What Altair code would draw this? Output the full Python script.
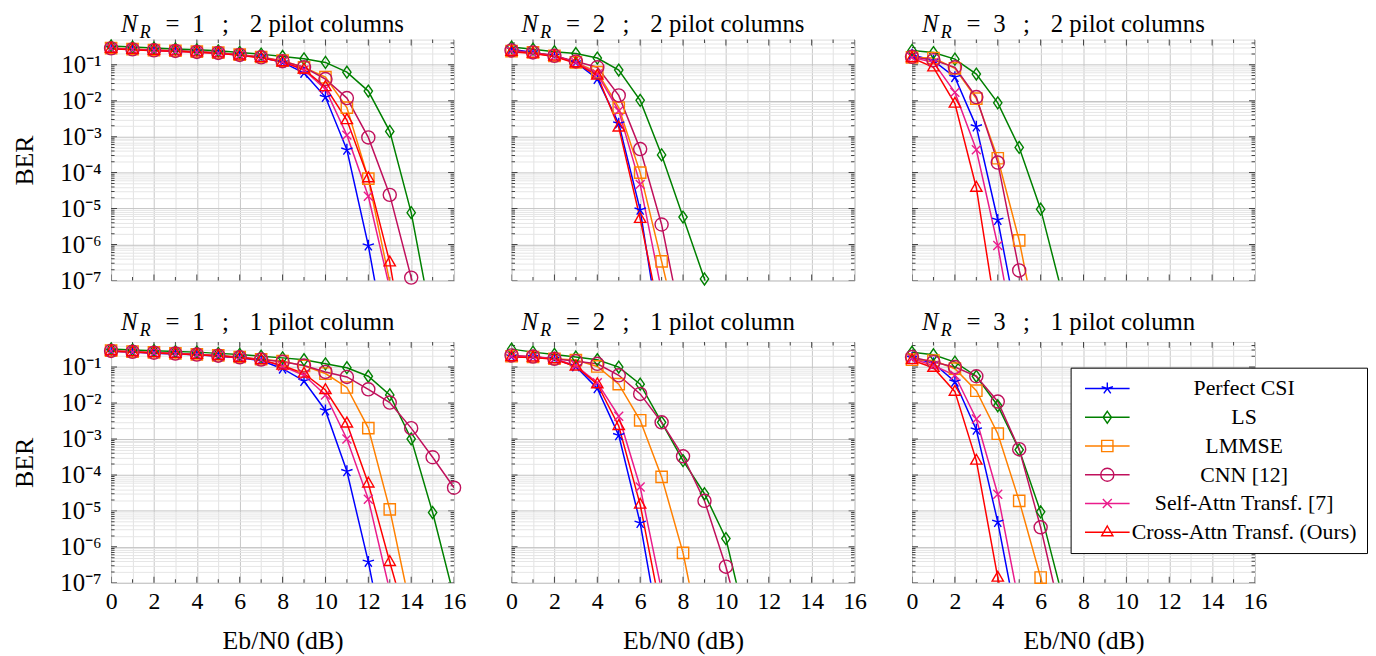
import altair as alt
import pandas as pd

FONT = "Liberation Serif"

methods = ["Perfect CSI", "LS", "LMMSE", "CNN [12]", "Self-Attn Transf. [7]", "Cross-Attn Transf. (Ours)"]
colors = ["#0000FF", "#008000", "#FF8000", "#C0105C", "#EA1C8C", "#FF0000"]

x_ticks = list(range(0, 17))
y_major = [10.0 ** k for k in range(-7, 0)]
y_minor = [m * 10.0 ** k for k in range(-7, 0) for m in range(2, 10) if m * 10.0 ** k < 0.5]

# BER values, index = Eb/N0 in dB (0, 1, 2, ...)
nr1_2p = {
    "Perfect CSI": [0.288, 0.270, 0.253, 0.243, 0.228, 0.214, 0.188, 0.159, 0.116, 0.059, 0.0126, 4.3e-4, 9.3e-7, 5e-10],
    "LS": [0.333, 0.31, 0.29, 0.275, 0.26, 0.243, 0.22, 0.197, 0.17, 0.146, 0.116, 0.062, 0.0185, 1.4e-3, 7.7e-6, 5.5e-9],
    "LMMSE": [0.29, 0.272, 0.256, 0.245, 0.23, 0.216, 0.191, 0.164, 0.13, 0.0845, 0.045, 0.0064, 6.8e-5, 9e-8],
    "CNN [12]": [0.285, 0.267, 0.251, 0.241, 0.226, 0.212, 0.187, 0.161, 0.125, 0.085, 0.04, 0.0118, 9.5e-4, 2.4e-5, 1.2e-7, 1e-9],
    "Self-Attn Transf. [7]": [0.282, 0.264, 0.248, 0.238, 0.223, 0.209, 0.184, 0.158, 0.12, 0.071, 0.021, 1.1e-3, 2.2e-5, 6e-8],
    "Cross-Attn Transf. (Ours)": [0.28, 0.262, 0.246, 0.236, 0.221, 0.207, 0.182, 0.156, 0.118, 0.074, 0.024, 2.9e-3, 7e-5, 3.2e-7, 1e-10],
}
nr2_2p = {
    "Perfect CSI": [0.27, 0.22, 0.177, 0.116, 0.040, 2.3e-3, 9.2e-6, 1.5e-9],
    "LS": [0.31, 0.27, 0.23, 0.205, 0.153, 0.071, 0.0102, 3.1e-4, 5.8e-6, 1.1e-7, 1e-9],
    "LMMSE": [0.24, 0.22, 0.177, 0.116, 0.062, 6.4e-3, 1.0e-4, 3.4e-7, 1e-9],
    "CNN [12]": [0.25, 0.22, 0.177, 0.123, 0.085, 0.014, 4.5e-4, 3.6e-6, 4e-9],
    "Self-Attn Transf. [7]": [0.235, 0.21, 0.172, 0.116, 0.055, 5.2e-3, 4.7e-5, 5e-8],
    "Cross-Attn Transf. (Ours)": [0.23, 0.205, 0.17, 0.11, 0.05, 1.8e-3, 5.2e-6, 6e-9],
}
nr3_2p = {
    "Perfect CSI": [0.19, 0.129, 0.045, 1.9e-3, 4.8e-6, 4e-9],
    "LS": [0.25, 0.218, 0.143, 0.055, 8.7e-3, 5.0e-4, 9.6e-6, 4.5e-8],
    "LMMSE": [0.16, 0.153, 0.079, 0.0114, 2.5e-4, 1.3e-6, 1.3e-9],
    "CNN [12]": [0.166, 0.134, 0.085, 0.0126, 1.9e-4, 1.9e-7, 1e-9],
    "Self-Attn Transf. [7]": [0.16, 0.116, 0.017, 4.3e-4, 9.4e-7, 5e-10],
    "Cross-Attn Transf. (Ours)": [0.155, 0.085, 8.3e-3, 3.8e-5, 6e-9],
}
nr1_1p = {
    "Perfect CSI": [0.275, 0.26, 0.24, 0.232, 0.218, 0.2, 0.18, 0.152, 0.09, 0.041, 6.2e-3, 1.26e-4, 3.8e-7, 4e-10],
    "LS": [0.32, 0.30, 0.285, 0.27, 0.26, 0.24, 0.225, 0.2, 0.18, 0.16, 0.123, 0.096, 0.0555, 0.0168, 1.0e-3, 9.0e-6, 4e-8],
    "LMMSE": [0.285, 0.27, 0.255, 0.24, 0.225, 0.21, 0.19, 0.165, 0.146, 0.108, 0.066, 0.027, 2.0e-3, 1.1e-5, 1.6e-8],
    "CNN [12]": [0.28, 0.265, 0.25, 0.237, 0.222, 0.207, 0.187, 0.162, 0.14, 0.11, 0.073, 0.053, 0.024, 0.0103, 2.0e-3, 3.1e-4, 4.4e-5],
    "Self-Attn Transf. [7]": [0.278, 0.262, 0.247, 0.235, 0.22, 0.205, 0.185, 0.158, 0.105, 0.059, 0.0167, 1.0e-3, 2.1e-5, 6e-8],
    "Cross-Attn Transf. (Ours)": [0.276, 0.26, 0.245, 0.233, 0.219, 0.203, 0.183, 0.156, 0.11, 0.066, 0.023, 2.7e-3, 5.8e-5, 3.8e-7, 3e-9],
}
nr2_1p = {
    "Perfect CSI": [0.196, 0.19, 0.17, 0.104, 0.0255, 1.26e-3, 4.6e-6, 2e-9],
    "LS": [0.315, 0.26, 0.225, 0.19, 0.16, 0.1, 0.0335, 2.9e-3, 2.5e-4, 3.0e-5, 1.7e-6, 5e-9],
    "LMMSE": [0.2, 0.19, 0.17, 0.156, 0.104, 0.0335, 3.3e-3, 8.8e-5, 6.8e-7, 8e-10],
    "CNN [12]": [0.21, 0.196, 0.17, 0.146, 0.123, 0.059, 0.0179, 2.9e-3, 3.3e-4, 1.9e-5, 2.8e-7, 1.6e-9],
    "Self-Attn Transf. [7]": [0.2, 0.19, 0.17, 0.11, 0.0365, 4.3e-3, 4.6e-5, 6e-8],
    "Cross-Attn Transf. (Ours)": [0.19, 0.185, 0.165, 0.104, 0.0335, 2.3e-3, 1.5e-5, 1.3e-8],
}
nr3_1p = {
    "Perfect CSI": [0.18, 0.129, 0.039, 1.8e-3, 4.9e-6, 4e-9],
    "LS": [0.258, 0.22, 0.137, 0.0555, 8.4e-3, 5.0e-4, 9.4e-6, 4.5e-8],
    "LMMSE": [0.16, 0.152, 0.09, 0.022, 1.4e-3, 1.9e-5, 1.4e-7, 1e-9],
    "CNN [12]": [0.19, 0.137, 0.1, 0.0555, 0.011, 5.2e-4, 3.5e-6, 8.7e-9],
    "Self-Attn Transf. [7]": [0.17, 0.11, 0.059, 3.6e-3, 2.9e-5, 2.5e-8],
    "Cross-Attn Transf. (Ours)": [0.156, 0.096, 0.0207, 2.5e-4, 1.4e-7, 3e-10],
}

# marker glyphs (unit coordinates, scaled by sqrt(size)/2)
star = "M0,0L0,-1M0,0L0.951,-0.309M0,0L0.588,0.809M0,0L-0.588,0.809M0,0L-0.951,-0.309"
diamond = "M0,-1L0.7,0L0,1L-0.7,0Z"
square = "M-0.95,-0.95L0.95,-0.95L0.95,0.95L-0.95,0.95Z"
circle = "M1.1,0A1.1,1.1,0,1,1,-1.1,0A1.1,1.1,0,1,1,1.1,0Z"
cross = "M-0.75,-0.75L0.75,0.75M-0.75,0.75L0.75,-0.75"
triangle = "M0,-1.05L0.95,0.6L-0.95,0.6Z"
marker_paths = [star, diamond, square, circle, cross, triangle]
legend_paths = ["M-3.75,0L3.75,0" + p for p in marker_paths]

W, H = 346, 243

DEC = "abs(log(datum.value)/LN10 - round(log(datum.value)/LN10)) < 0.001"
SUP = "['⁰','¹','²','³','⁴','⁵','⁶','⁷','⁸','⁹']"
y_label_expr = f"{DEC} ? '10⁻' + {SUP}[-round(log(datum.value)/LN10)] : ''"
y_grid_color = {"condition": {"test": DEC, "value": "#c2c2c2"}, "value": "#e6e6e6"}
x_grid_color = {"condition": {"test": "datum.value % 2 == 1", "value": "#e2e2e2"}, "value": "#c6c6c6"}

ytick_df = pd.DataFrame({"v": y_major + y_minor, "kind": ["major"] * len(y_major) + ["minor"] * len(y_minor)})
xtick_df = pd.DataFrame({"v": x_ticks, "kind": ["major" if t % 2 == 0 else "minor" for t in x_ticks]})
one_df = pd.DataFrame({"k": [0]})

TITLE_SIZE = 25


def to_df(series):
    rows = []
    for m in methods:
        for i, v in enumerate(series[m]):
            rows.append({"method": m, "snr": i, "ber": v})
    return pd.DataFrame(rows)


def txt(s, x, y, size=TITLE_SIZE, style="normal"):
    return alt.Chart(one_df).mark_text(
        text=s, align="left", baseline="alphabetic", font=FONT,
        fontSize=size, fontStyle=style, color="black"
    ).encode(x=alt.value(x), y=alt.value(y))


def panel(series, nr, label, row, col, with_legend=False):
    df = to_df(series)
    bottom = row == 1
    left = col == 0
    xs = alt.Scale(domain=[0, 16], nice=False, zero=False)
    ys = alt.Scale(type="log", domain=[1e-7, 0.5], nice=False)
    x_axis = alt.Axis(
        values=x_ticks, labels=bottom, labelExpr="datum.value % 2 == 0 ? datum.label : ''",
        title="Eb/N0 (dB)" if bottom else None, ticks=False, domain=False, grid=True,
        gridColor=x_grid_color, gridWidth=1, labelFont=FONT, labelFontSize=24,
        labelPadding=7, labelColor="black", labelOverlap=False, labelFlush=False,
        titleFont=FONT, titleFontSize=26, titleFontWeight="normal", titlePadding=14,
        titleColor="black",
    )
    y_axis = alt.Axis(
        values=y_major + y_minor, labels=left, labelExpr=y_label_expr,
        title="BER" if left else None, ticks=False, domain=False, grid=True,
        gridColor=y_grid_color, gridWidth=1, labelFont=FONT, labelFontSize=25,
        labelPadding=10, labelColor="black", labelOverlap=False, labelFlush=False,
        titleFont=FONT, titleFontSize=26, titleFontWeight="normal", titlePadding=23,
        titleColor="black",
    )
    tick_size = alt.Size("kind:O", scale=alt.Scale(domain=["major", "minor"], range=[12, 7]), legend=None)
    ytick = alt.Chart(ytick_df).mark_tick(orient="horizontal", clip=True, color="#444", thickness=1, opacity=1)
    xtick = alt.Chart(xtick_df).mark_tick(orient="vertical", clip=True, color="#444", thickness=1, opacity=1)
    yt_l = ytick.encode(y=alt.Y("v:Q", scale=ys, axis=y_axis), x=alt.value(0), size=tick_size)
    yt_r = ytick.encode(y=alt.Y("v:Q", scale=ys, axis=y_axis), x=alt.value(W), size=tick_size)
    xt_b = xtick.encode(x=alt.X("v:Q", scale=xs, axis=x_axis), y=alt.value(H), size=tick_size)
    xt_t = xtick.encode(x=alt.X("v:Q", scale=xs, axis=x_axis), y=alt.value(0), size=tick_size)

    col_enc = alt.Color("method:N", scale=alt.Scale(domain=methods, range=colors), legend=None)
    lines = alt.Chart(df).mark_line(clip=True, strokeWidth=1.5).encode(
        x=alt.X("snr:Q", scale=xs, axis=x_axis),
        y=alt.Y("ber:Q", scale=ys, axis=y_axis),
        color=col_enc,
    )
    points = alt.Chart(df).transform_filter("datum.ber >= 1e-7").mark_point(
        filled=False, size=144, strokeWidth=1.4, opacity=1
    ).encode(
        x=alt.X("snr:Q", scale=xs, axis=x_axis),
        y=alt.Y("ber:Q", scale=ys, axis=y_axis),
        color=col_enc,
        shape=alt.Shape("method:N", scale=alt.Scale(domain=methods, range=marker_paths), legend=None),
    )
    by = -8 if row == 0 else -12
    titles = [
        txt("N", 10, by, TITLE_SIZE, "italic"),
        txt("R", 29, by + 6, 18, "italic"),
        txt("=", 55, by),
        txt(str(nr), 82, by),
        txt(";", 112, by),
        txt(label, 140, by),
    ]
    layers = [yt_l, yt_r, xt_b, xt_t, lines, points] + titles
    if with_legend:
        leg = alt.Legend(
            title=None, orient="none", legendX=160, legendY=26, direction="vertical",
            labelFont=FONT, labelFontSize=22, labelColor="black", labelAlign="center",
            labelOffset=127, symbolOffset=16, symbolSize=144, symbolStrokeWidth=1.4,
            labelLimit=400, padding=10, strokeColor="black", fillColor="white",
            cornerRadius=0, rowPadding=7,
        )
        legend_df = pd.DataFrame({"method": pd.Series([], dtype=str)})
        legend_layer = alt.Chart(legend_df).mark_point(
            filled=False, size=144, strokeWidth=1.4, opacity=1
        ).encode(
            shape=alt.Shape("method:N", scale=alt.Scale(domain=methods, range=legend_paths), legend=leg),
            color=alt.Color("method:N", scale=alt.Scale(domain=methods, range=colors), legend=leg),
        )
        layers.append(legend_layer)
    return alt.layer(*layers).properties(width=W, height=H).resolve_scale(
        color="independent", shape="independent"
    )


panels = [
    panel(nr1_2p, 1, "2 pilot columns", 0, 0),
    panel(nr2_2p, 2, "2 pilot columns", 0, 1),
    panel(nr3_2p, 3, "2 pilot columns", 0, 2),
    panel(nr1_1p, 1, "1 pilot column", 1, 0),
    panel(nr2_1p, 2, "1 pilot column", 1, 1),
    panel(nr3_1p, 3, "1 pilot column", 1, 2, with_legend=True),
]

chart = alt.concat(
    *panels, columns=3, spacing={"row": 62, "column": 58}, bounds="flush"
).resolve_scale(
    color="independent", shape="independent"
).properties(
    padding={"left": 2, "top": 0, "right": 0, "bottom": 0}
).configure_view(
    stroke="black", strokeWidth=1.2
).configure(font=FONT)

chart.save("out.html", embed_options={"renderer": "svg", "actions": False})
